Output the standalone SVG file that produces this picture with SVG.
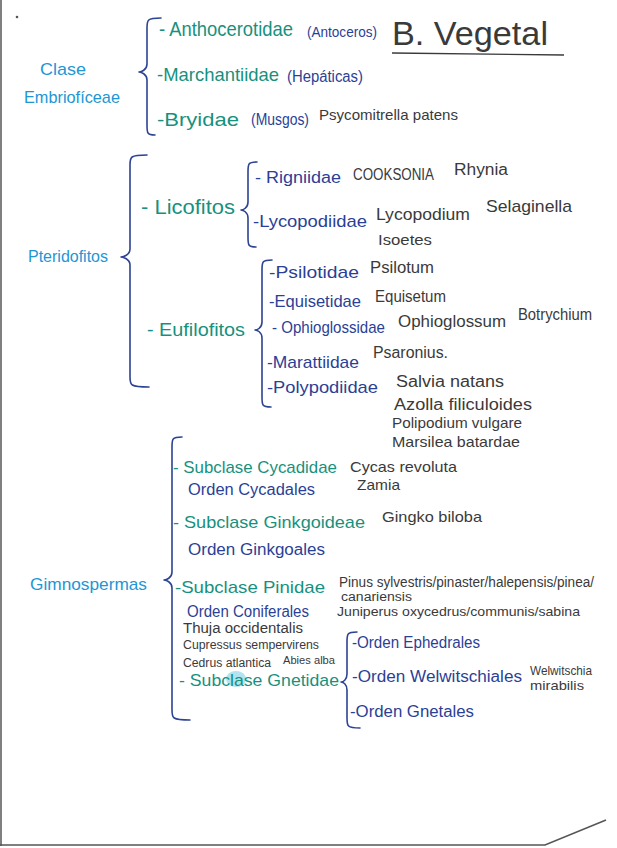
<svg xmlns="http://www.w3.org/2000/svg" width="617" height="848" viewBox="0 0 617 848">
<style>
text{font-family:"Liberation Sans","DejaVu Sans",sans-serif;}
.g{fill:#17917e;}
.lb{fill:#2296d4;}
.db{fill:#2b3f96;}
.k{fill:#3a3a3a;}
.brace{fill:none;stroke:#2d4394;stroke-width:1.6;stroke-linecap:round;stroke-linejoin:round;}
.edge{fill:none;stroke:#555;stroke-width:1.5;}
</style>
<rect x="0" y="0" width="617" height="848" fill="#ffffff"/>
<g id="page-edges">
<line class="edge" x1="1" y1="0" x2="1" y2="846" stroke="#999"/>
<path class="edge" d="M0 845 L545 845 L606 820"/>
<circle cx="17" cy="17" r="1.3" fill="#555"/>
</g>

<g id="title">
<text x="392" y="45" font-size="34" class="k" textLength="156" lengthAdjust="spacingAndGlyphs">B. Vegetal</text>
<path d="M392 53 L564 55" stroke="#3a3a3a" stroke-width="1.3" fill="none"/>
</g>

<g id="connectors">
<path class="brace" d="M161 18 C147 18 147 20 147 28 L147 64 C147 70 141 72 139 72 C141 72 147 74 147 80 L147 125 C147 133 147 135 155 135"/>
<path class="brace" d="M147 155 C130 155 130 157 130 165 L130 249 C130 255 123 257 121 257 C123 257 130 259 130 265 L130 377 C130 385 130 387 149 387"/>
<path class="brace" d="M257 162 C248 162 248 164 248 172 L248 202 C248 208 243 210 241 210 C243 210 248 212 248 218 L248 237 C248 245 248 247 256 247"/>
<path class="brace" d="M272 260 C262 260 262 262 262 270 L262 322 C262 328 257 330 255 330 C257 330 262 332 262 338 L262 397 C262 405 262 407 271 407"/>
<path class="brace" d="M182 437 C172 437 172 439 172 447 L172 572 C172 578 166 580 164 580 C166 580 172 582 172 588 L172 710 C172 718 172 720 190 720"/>
<path class="brace" d="M357 632 C347 632 347 634 347 642 L347 674 C347 680 343 682 341 682 C343 682 347 684 347 690 L347 718 C347 726 347 728 360 728"/>
</g>

<g id="clase-embrioficeae">
<text x="40" y="75" font-size="17" class="lb" textLength="46" lengthAdjust="spacingAndGlyphs">Clase</text>
<text x="24" y="103" font-size="17" class="lb" textLength="96" lengthAdjust="spacingAndGlyphs">Embriofíceae</text>
</g>

<g id="anthocerotidae">
<text x="159" y="36" font-size="21" class="g" textLength="134" lengthAdjust="spacingAndGlyphs">- Anthocerotidae</text>
<text x="307" y="37" font-size="15" class="db" textLength="70" lengthAdjust="spacingAndGlyphs">(Antoceros)</text>
</g>
<g id="marchantiidae">
<text x="157" y="81" font-size="19" class="g" textLength="122" lengthAdjust="spacingAndGlyphs">-Marchantiidae</text>
<text x="287" y="82" font-size="16" class="db" textLength="76" lengthAdjust="spacingAndGlyphs">(Hepáticas)</text>
</g>
<g id="bryidae">
<text x="157" y="126" font-size="19" class="g" textLength="82" lengthAdjust="spacingAndGlyphs">-Bryidae</text>
<text x="251" y="125" font-size="16" class="db" textLength="58" lengthAdjust="spacingAndGlyphs">(Musgos)</text>
<text x="319" y="120" font-size="15" class="k" textLength="139" lengthAdjust="spacingAndGlyphs">Psycomitrella patens</text>
</g>

<g id="pteridofitos">
<text x="28" y="262" font-size="16" class="lb" textLength="80" lengthAdjust="spacingAndGlyphs">Pteridofitos</text>
</g>
<g id="licofitos">
<text x="141" y="214" font-size="21" class="g" textLength="94" lengthAdjust="spacingAndGlyphs">- Licofitos</text>
</g>
<g id="rigniidae">
<text x="255" y="183" font-size="16" class="db" textLength="86" lengthAdjust="spacingAndGlyphs">- Rigniidae</text>
<text x="353" y="180" font-size="16" class="k" textLength="81" lengthAdjust="spacingAndGlyphs">COOKSONIA</text>
<text x="454" y="175" font-size="16" class="k" textLength="54" lengthAdjust="spacingAndGlyphs">Rhynia</text>
</g>
<g id="lycopodiidae">
<text x="253" y="227" font-size="17" class="db" textLength="114" lengthAdjust="spacingAndGlyphs">-Lycopodiidae</text>
<text x="376" y="220" font-size="17" class="k" textLength="94" lengthAdjust="spacingAndGlyphs">Lycopodium</text>
<text x="486" y="212" font-size="17" class="k" textLength="86" lengthAdjust="spacingAndGlyphs">Selaginella</text>
<text x="378" y="245" font-size="15" class="k" textLength="54" lengthAdjust="spacingAndGlyphs">Isoetes</text>
</g>

<g id="eufilofitos">
<text x="147" y="336" font-size="19" class="g" textLength="98" lengthAdjust="spacingAndGlyphs">- Eufilofitos</text>
</g>
<g id="psilotidae">
<text x="269" y="278" font-size="17" class="db" textLength="90" lengthAdjust="spacingAndGlyphs">-Psilotidae</text>
<text x="370" y="273" font-size="16" class="k" textLength="64" lengthAdjust="spacingAndGlyphs">Psilotum</text>
</g>
<g id="equisetidae">
<text x="269" y="307" font-size="17" class="db" textLength="92" lengthAdjust="spacingAndGlyphs">-Equisetidae</text>
<text x="375" y="302" font-size="16" class="k" textLength="71" lengthAdjust="spacingAndGlyphs">Equisetum</text>
</g>
<g id="ophioglossidae">
<text x="272" y="333" font-size="17" class="db" textLength="113" lengthAdjust="spacingAndGlyphs">- Ophioglossidae</text>
<text x="398" y="327" font-size="16" class="k" textLength="108" lengthAdjust="spacingAndGlyphs">Ophioglossum</text>
<text x="518" y="320" font-size="16" class="k" textLength="74" lengthAdjust="spacingAndGlyphs">Botrychium</text>
</g>
<g id="marattiidae">
<text x="267" y="368" font-size="17" class="db" textLength="92" lengthAdjust="spacingAndGlyphs">-Marattiidae</text>
<text x="373" y="358" font-size="16" class="k" textLength="75" lengthAdjust="spacingAndGlyphs">Psaronius.</text>
</g>
<g id="polypodiidae">
<text x="267" y="393" font-size="17" class="db" textLength="111" lengthAdjust="spacingAndGlyphs">-Polypodiidae</text>
<text x="396" y="387" font-size="16" class="k" textLength="108" lengthAdjust="spacingAndGlyphs">Salvia natans</text>
<text x="394" y="410" font-size="16" class="k" textLength="138" lengthAdjust="spacingAndGlyphs">Azolla filiculoides</text>
<text x="392" y="428" font-size="15" class="k" textLength="130" lengthAdjust="spacingAndGlyphs">Polipodium vulgare</text>
<text x="392" y="447" font-size="15" class="k" textLength="128" lengthAdjust="spacingAndGlyphs">Marsilea batardae</text>
</g>

<g id="gimnospermas">
<text x="30" y="590" font-size="17" class="lb" textLength="117" lengthAdjust="spacingAndGlyphs">Gimnospermas</text>
</g>
<g id="cycadidae">
<text x="173" y="473" font-size="17" class="g" textLength="164" lengthAdjust="spacingAndGlyphs">- Subclase Cycadidae</text>
<text x="350" y="472" font-size="15" class="k" textLength="107" lengthAdjust="spacingAndGlyphs">Cycas revoluta</text>
<text x="188" y="495" font-size="16" class="db" textLength="127" lengthAdjust="spacingAndGlyphs">Orden Cycadales</text>
<text x="357" y="490" font-size="15" class="k" textLength="43" lengthAdjust="spacingAndGlyphs">Zamia</text>
</g>
<g id="ginkgoidae">
<text x="173" y="528" font-size="17" class="g" textLength="192" lengthAdjust="spacingAndGlyphs">- Subclase Ginkgoideae</text>
<text x="382" y="522" font-size="15" class="k" textLength="100" lengthAdjust="spacingAndGlyphs">Gingko biloba</text>
<text x="188" y="555" font-size="16" class="db" textLength="137" lengthAdjust="spacingAndGlyphs">Orden Ginkgoales</text>
</g>
<g id="pinidae">
<text x="175" y="593" font-size="17" class="g" textLength="150" lengthAdjust="spacingAndGlyphs">-Subclase Pinidae</text>
<text x="339" y="587" font-size="14" class="k" textLength="255" lengthAdjust="spacingAndGlyphs">Pinus sylvestris/pinaster/halepensis/pinea/</text>
<text x="341" y="601" font-size="12" class="k" textLength="71" lengthAdjust="spacingAndGlyphs">canariensis</text>
<text x="337" y="616" font-size="13" class="k" textLength="243" lengthAdjust="spacingAndGlyphs">Juniperus oxycedrus/communis/sabina</text>
<text x="187" y="617" font-size="16" class="db" textLength="122" lengthAdjust="spacingAndGlyphs">Orden Coniferales</text>
<text x="183" y="633" font-size="14" class="k" textLength="120" lengthAdjust="spacingAndGlyphs">Thuja occidentalis</text>
<text x="183" y="649" font-size="13" class="k" textLength="136" lengthAdjust="spacingAndGlyphs">Cupressus sempervirens</text>
<text x="183" y="667" font-size="12" class="k" textLength="88" lengthAdjust="spacingAndGlyphs">Cedrus atlantica</text>
<text x="283" y="664" font-size="11" class="k" textLength="52" lengthAdjust="spacingAndGlyphs">Abies alba</text>
</g>
<g id="gnetidae">
<ellipse cx="236" cy="679" rx="10" ry="8" fill="#7fd0e6" opacity="0.6"/>
<text x="179" y="686" font-size="17" class="g" textLength="160" lengthAdjust="spacingAndGlyphs">- Subclase Gnetidae</text>
</g>
<g id="ephedrales">
<text x="352" y="648" font-size="16" class="db" textLength="128" lengthAdjust="spacingAndGlyphs">-Orden Ephedrales</text>
</g>
<g id="welwitschiales">
<text x="352" y="682" font-size="16" class="db" textLength="170" lengthAdjust="spacingAndGlyphs">-Orden Welwitschiales</text>
<text x="530" y="675" font-size="13" class="k" textLength="62" lengthAdjust="spacingAndGlyphs">Welwitschia</text>
<text x="530" y="690" font-size="13" class="k" textLength="54" lengthAdjust="spacingAndGlyphs">mirabilis</text>
</g>
<g id="gnetales">
<text x="350" y="717" font-size="16" class="db" textLength="124" lengthAdjust="spacingAndGlyphs">-Orden Gnetales</text>
</g>
</svg>
